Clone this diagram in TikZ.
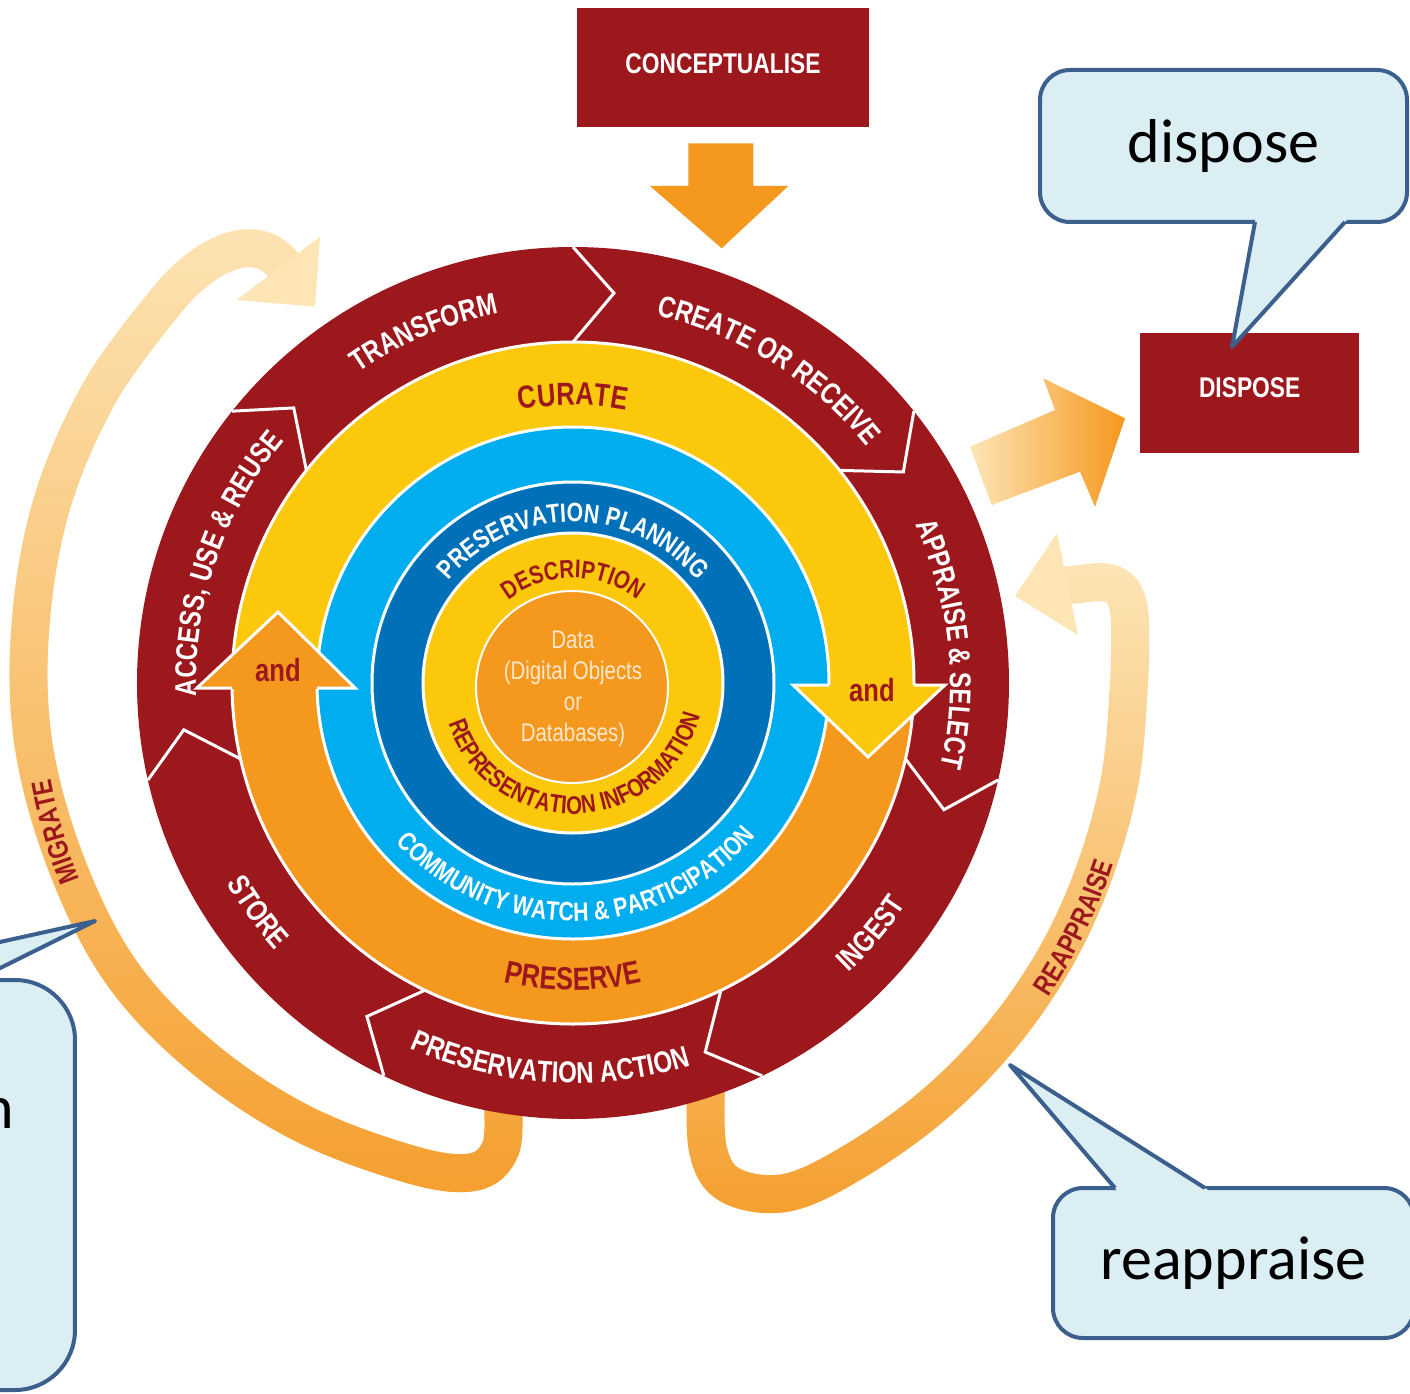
\documentclass[tikz,border=0pt]{standalone}
\usepackage{fontspec}
\usetikzlibrary{decorations.text,fadings}
\newfontfamily\cnd[FakeStretch=0.8]{Liberation Sans}
\newfontfamily\calfont{Carlito}
\definecolor{dred}{RGB}{157,24,28}
\definecolor{yel}{RGB}{252,200,12}
\definecolor{org}{RGB}{245,152,30}
\definecolor{lblue}{RGB}{0,173,238}
\definecolor{dblue}{RGB}{0,112,185}
\definecolor{cream}{RGB}{253,232,205}
\definecolor{pale}{RGB}{253,229,182}
\definecolor{bandorg}{RGB}{245,160,48}
\definecolor{calfill}{RGB}{219,238,244}
\definecolor{calline}{RGB}{59,96,141}
\newcommand\fRing{\cnd\bfseries\fontsize{30}{32}\selectfont\color{white}}
\newcommand\fCur{\cnd\bfseries\fontsize{32}{34}\selectfont\color{dred}}
\newcommand\fBlue{\cnd\bfseries\fontsize{26.5}{28}\selectfont\color{white}}
\newcommand\fIn{\cnd\bfseries\fontsize{25.5}{27}\selectfont\color{dred}}
\newcommand\fMig{\cnd\bfseries\fontsize{28.5}{30}\selectfont\color{dred}}
% #1 radius, #2 centre angle, #3 half span, #4 format, #5 text
\newcommand\cwtext[5]{\path[decorate,decoration={text along path,text align=center,text={|#4|#5}}] ({#2+#3}:#1) arc[start angle={#2+#3},end angle={#2-#3},radius=#1];}
\newcommand\ccwtext[5]{\path[decorate,decoration={text along path,text align=center,text={|#4|#5}}] ({#2-#3}:#1) arc[start angle={#2-#3},end angle={#2+#3},radius=#1];}
\tikzset{
  wline/.style={draw=white, line width=3, line join=miter},
  redbox/.style={fill=dred, text=white, inner sep=0, font=\cnd\bfseries\fontsize{28.5}{30}\selectfont},
  callout/.style={fill=calfill, draw=calline, line width=4, inner sep=0, text=black, font=\calfont\fontsize{62}{70}\selectfont},
  calltail/.style={draw=calline, line width=4, line join=round},
  band/.style={line width=38, line cap=butt},
  andlabel/.style={text=dred, inner sep=0, font=\cnd\bfseries\fontsize{32}{34}\selectfont}
}
\begin{document}
\begin{tikzpicture}[x=1pt,y=1pt]
\useasboundingbox (-573,-710) rectangle (837,683);
\fill[white] (-573,-710) rectangle (837,683);

% ---------- MIGRATE band ----------
\draw[band, pale] plot[smooth, tension=0.6] coordinates {(-70,-417) (-72,-465) (-100,-489) (-163,-481) (-273,-439) (-373,-372) (-453,-287) (-508,-177) (-540,-57) (-542,63) (-520,183) (-472,293) (-410,378)} .. controls (-376,423) and (-320,458) .. (-288,416);
\draw[band, bandorg, path fading=north] plot[smooth, tension=0.6] coordinates {(-70,-417) (-72,-465) (-100,-489) (-163,-481) (-273,-439) (-373,-372) (-453,-287) (-508,-177) (-540,-57) (-542,63) (-520,183) (-472,293) (-410,378)} .. controls (-376,423) and (-320,458) .. (-288,416);
\fill[pale] (-253,446.3) -- (-258,376.3) -- (-336.3,383) -- cycle;

% ---------- REAPPRAISE band ----------
\draw[band, pale] plot[smooth, tension=0.6] coordinates {(133,-402) (135,-467) (157,-502) (212,-510) (277,-481) (357,-425) (425,-357) (481,-277) (521,-190) (547,-96) (556,0) (557,50)} .. controls (558,90) and (548,101) .. (525,101) -- (488,97);
\draw[band, bandorg, path fading=north] plot[smooth, tension=0.6] coordinates {(133,-402) (135,-467) (157,-502) (212,-510) (277,-481) (357,-425) (425,-357) (481,-277) (521,-190) (547,-96) (556,0) (557,50)} .. controls (558,90) and (548,101) .. (525,101) -- (488,97);
\fill[pale] (484,150) -- (442,87) -- (505,48) -- cycle;

% ---------- boxes and straight arrows ----------
\node[redbox, minimum width=292, minimum height=119, text height=20.5, text depth=9] (concept) at (150,615.2) {CONCEPTUALISE};
\node[redbox, minimum width=219, minimum height=120, text height=20.5, text depth=13] (dispose) at (676.7,289.7) {DISPOSE};
\fill[org] (115.3,539.7) -- (180.3,539.7) -- (180.3,497) -- (215.3,497) -- (148.7,434.7) -- (77,497) -- (115.3,497) -- cycle;
\shade[left color=pale, right color=org] (397,236.3) -- (482,273) -- (470.3,304.7) -- (552,264.7) -- (522,176.3) -- (507,211.3) -- (418.7,178) -- cycle;

% ---------- outer ring ----------
\fill[dred] (0,0) circle[radius=436];
\foreach \k in {0,...,6} {
  \pgfmathsetmacro\ang{90-\k*360/7}
  \draw[wline] (\ang:436) -- ({\ang-6}:392) -- (\ang:341);
}
% curate / preserve
\fill[org] (0,0) circle[radius=341];
\fill[yel] (0,0) -- (-1:341) arc[start angle=-1, end angle=180.5, radius=341] -- cycle;
\fill[lblue] (0,0) circle[radius=256];
\fill[dblue] (0,0) circle[radius=201];
\fill[yel] (0,0) circle[radius=150];
\fill[org] (-1,-4) circle[radius=96];
\foreach \r in {341,256,201,150} { \draw[wline] (0,0) circle[radius=\r]; }
\draw[draw=white, line width=2] (-1,-4) circle[radius=96];

% and-arrows
\fill[org] (-376,-5) -- (-295,71) -- (-218,-5) -- cycle;
\fill[org] (-341,-6) rectangle (-256,-4);
\draw[wline] (-341,-5) -- (-376,-5) -- (-295,71) -- (-218,-5) -- (-256,-5);
\fill[yel] (220,-2) -- (295,-74) -- (372,-2) -- cycle;
\draw[wline] (256,-2) -- (220,-2) -- (295,-74) -- (372,-2) -- (341,-2);
\node[andlabel] (andL) at (-295,13) {and};
\node[andlabel] (andR) at (299,-7) {and};

% ---------- ring texts ----------
\cwtext{377}{113}{40}{\fRing}{TRANSFORM}
\cwtext{377}{58}{45}{\fRing}{CREATE OR RECEIVE}
\cwtext{377}{6}{45}{\fRing}{APPRAISE {\&} SELECT}
\cwtext{377}{161}{45}{\fRing}{ACCESS, USE {\&} REUSE}
\ccwtext{400}{-40}{30}{\fRing}{INGEST}
\ccwtext{400}{-93.5}{40}{\fRing}{PRESERVATION ACTION}
\ccwtext{400}{-144}{30}{\fRing}{STORE}

\cwtext{278}{90}{40}{\fCur}{CURATE}
\ccwtext{307}{-90}{40}{\fCur}{PRESERVE}
\cwtext{161}{90}{80}{\fBlue}{PRESERVATION PLANNING}
\ccwtext{238}{-89}{75}{\fBlue}{COMMUNITY WATCH {\&} PARTICIPATION}
\cwtext{105}{90}{70}{\fIn}{DESCRIPTION}
\ccwtext{131}{-88}{85}{\fIn}{REPRESENTATION INFORMATION}

\cwtext{531}{196}{20}{\fMig}{MIGRATE}
\ccwtext{570}{-26}{20}{\fMig}{REAPPRAISE}

\node[align=center, text=cream, inner sep=0, font=\cnd\fontsize{25.5}{31}\selectfont] (data) at (0,-6) {Data\\(Digital Objects\\or\\Databases)};

% ---------- callouts ----------
\node[callout, rounded corners=30, minimum width=367, minimum height=152] (cdisp) at (650.5,537) {dispose};
\fill[calfill] (682.7,465) -- (659,336) -- (775.6,465) -- cycle;
\draw[calltail] (682,461) -- (659,336) -- (772,461);

\node[callout, rounded corners=30, minimum width=361, minimum height=150] (creap) at (660.5,-580) {reappraise};
\fill[calfill] (545.4,-509) -- (437,-382) -- (638.3,-509) -- cycle;
\draw[calltail] (542,-505) -- (437,-382) -- (632,-505);

\node[callout, rounded corners=60, minimum width=402, minimum height=410] (cmig) at (-699,-502) {};
\fill[calfill] (-763,-301) -- (-478,-238) -- (-605,-301) -- cycle;
\draw[calltail] (-745,-297) -- (-478,-238) -- (-597,-297);
\node[anchor=base east, inner sep=0, text=black, font=\calfont\fontsize{62}{70}\selectfont] (ntext) at (-559,-445) {n};
\end{tikzpicture}
\end{document}
